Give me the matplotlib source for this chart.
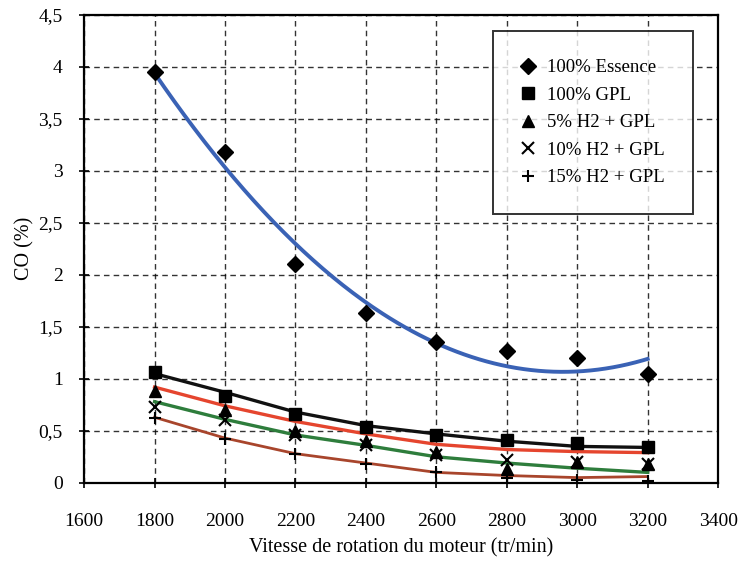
import numpy as np
import matplotlib
matplotlib.use("Agg")
import matplotlib.pyplot as plt
from matplotlib.ticker import FuncFormatter

plt.rcParams['font.family'] = ['Liberation Serif', 'DejaVu Serif']

# vitesse (tr/min)
vitesse = [1800, 2000, 2200, 2400, 2600, 2800, 3000, 3200]

# CO (%) mesures
essence = [3.95, 3.18, 2.10, 1.63, 1.35, 1.27, 1.20, 1.05]
gpl = [1.07, 0.83, 0.66, 0.54, 0.46, 0.41, 0.38, 0.34]
h2_5 = [0.88, 0.70, 0.50, 0.40, 0.30, 0.13, 0.20, 0.18]
h2_10 = [0.73, 0.60, 0.46, 0.36, 0.27, 0.22, 0.20, 0.18]
h2_15 = [0.62, 0.42, 0.28, 0.18, 0.10, 0.05, 0.03, 0.02]

# courbes de tendance
tend_gpl = [1.05, 0.87, 0.68, 0.55, 0.47, 0.40, 0.35, 0.34]
tend_5 = [0.92, 0.74, 0.59, 0.47, 0.37, 0.32, 0.30, 0.29]
tend_10 = [0.78, 0.61, 0.46, 0.36, 0.25, 0.19, 0.14, 0.10]
tend_15 = [0.63, 0.43, 0.28, 0.19, 0.10, 0.07, 0.05, 0.06]

labels = ['100% Essence', '100% GPL', '5% H2 + GPL', '10% H2 + GPL', '15% H2 + GPL']

fig = plt.figure(figsize=(7.38, 5.68), dpi=100)
ax = fig.add_axes([0.114, 0.150, 0.859, 0.824])

# tendance polynomiale (ordre 2) pour l'essence
coef = np.polyfit(vitesse, essence, 2)
xs = np.linspace(vitesse[0], vitesse[-1], 200)
ax.plot(xs, np.polyval(coef, xs), color='#3a62b5', lw=2.8, zorder=3)

ax.plot(vitesse, tend_gpl, color='#111111', lw=2.4, zorder=3)
ax.plot(vitesse, tend_5, color='#e5452e', lw=2.4, zorder=3)
ax.plot(vitesse, tend_10, color='#2e7d3c', lw=2.4, zorder=3)
ax.plot(vitesse, tend_15, color='#a8452c', lw=2.0, zorder=3)

ax.plot(vitesse, essence, 'D', color='black', ms=8, ls='none', label=labels[0], zorder=4)
ax.plot(vitesse, gpl, 's', color='black', ms=9, ls='none', label=labels[1], zorder=4)
ax.plot(vitesse, h2_5, '^', color='black', ms=8, ls='none', label=labels[2], zorder=4)
ax.plot(vitesse, h2_10, 'x', color='black', ms=9, mew=1.5, ls='none', label=labels[3], zorder=4)
ax.plot(vitesse, h2_15, '+', color='black', ms=9, mew=1.5, ls='none', label=labels[4], zorder=4)

ax.set_xlim(1600, 3400)
ax.set_ylim(0, 4.5)
ax.set_xticks(range(1600, 3401, 200))
ax.set_yticks(np.arange(0, 4.51, 0.5))
ax.yaxis.set_major_formatter(FuncFormatter(lambda v, p: ('%g' % v).replace('.', ',')))
ax.grid(True, color='black', ls=(0, (4, 3)), lw=1.0, alpha=0.8)
ax.tick_params(direction='inout', length=7, width=1.2, labelsize=14, colors='black')
ax.tick_params(axis='x', pad=18)
ax.tick_params(axis='y', pad=12)
for s in ax.spines.values():
    s.set_linewidth(1.6)

ax.set_xlabel('Vitesse de rotation du moteur (tr/min)', fontsize=14.5, labelpad=6)
ax.set_ylabel('CO (%)', fontsize=14.5, labelpad=3)

leg = ax.legend(loc='upper right', bbox_to_anchor=(0.975, 0.985), fontsize=13.5,
                frameon=True, fancybox=False, edgecolor='black', labelspacing=0.55,
                handlelength=0.8, handletextpad=0.6, borderpad=1.5)
leg.get_frame().set_linewidth(1.4)

fig.savefig('out.png', dpi=100)
